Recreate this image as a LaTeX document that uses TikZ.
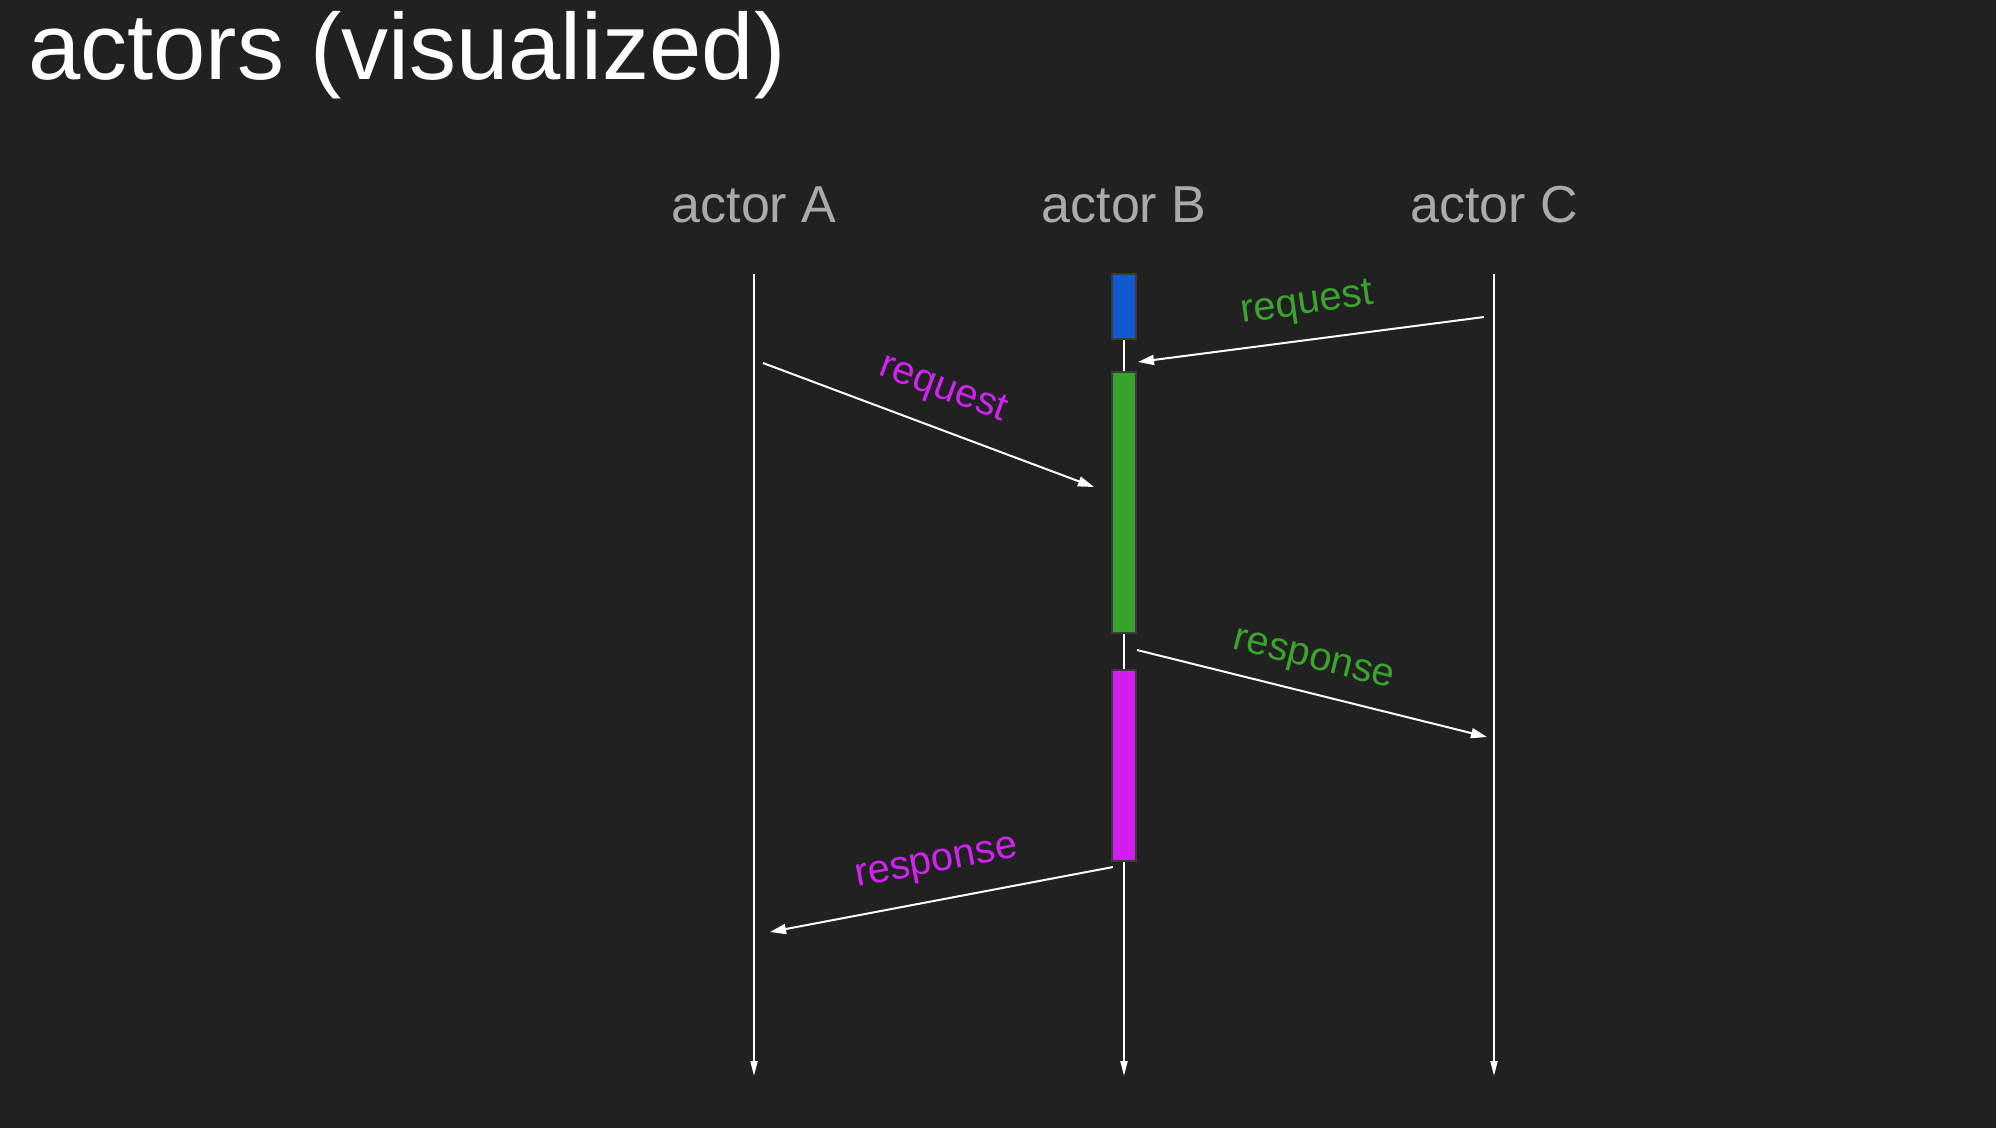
\documentclass[tikz,border=0pt]{standalone}
\usepackage{fontspec}
\setmainfont{Liberation Sans}
\usetikzlibrary{arrows.meta}
\definecolor{bg}{HTML}{212121}
\definecolor{actorgray}{HTML}{AAAAAA}
\definecolor{boxblue}{HTML}{1258D0}
\definecolor{boxgreen}{HTML}{38A22A}
\definecolor{boxmag}{HTML}{D21EF2}
\definecolor{txtgreen}{HTML}{3AA42C}
\definecolor{txtmag}{HTML}{D022F0}
\definecolor{boxedge}{HTML}{3A3A3A}
\begin{document}
\begin{tikzpicture}[x=1pt,y=-1pt,
  lifeline/.style={draw=white, line width=2pt, -{Triangle[length=15pt,width=7pt]}},
  msg/.style={draw=white, line width=2pt, -{Triangle[length=16pt,width=10pt]}},
  actbox/.style={draw=boxedge, line width=2.5pt, minimum width=24pt, inner sep=0pt},
  actorlbl/.style={text=actorgray, font=\fontsize{52}{60}\selectfont, anchor=base, inner sep=0pt},
  msglbl/.style={font=\fontsize{40}{48}\selectfont, inner sep=0pt}]
\fill[bg] (0,0) rectangle (1996,1128);
\useasboundingbox (0,0) rectangle (1996,1128);

\node[anchor=base west, text=white, font=\fontsize{94}{100}\selectfont, inner sep=0pt] (title) at (28,79) {actors (visualized)};

\node[actorlbl] (la) at (754,222) {actor A};
\node[actorlbl] (lb) at (1124,222) {actor B};
\node[actorlbl] (lc) at (1494,222) {actor C};

\coordinate (topA) at (754,274);
\coordinate (botA) at (754,1076);
\coordinate (topB) at (1124,274);
\coordinate (botB) at (1124,1076);
\coordinate (topC) at (1494,274);
\coordinate (botC) at (1494,1076);
\draw[lifeline] (topA) -- (botA);
\draw[lifeline] (topB) -- (botB);
\draw[lifeline] (topC) -- (botC);

\node[actbox, fill=boxblue, minimum height=65pt] (bblue) at (1124,306.5) {};
\node[actbox, fill=boxgreen, minimum height=261pt] (bgreen) at (1124,502.5) {};
\node[actbox, fill=boxmag, minimum height=191pt] (bmag) at (1124,765.5) {};

\coordinate (m1s) at (1484,317);
\coordinate (m1e) at (1138,362);
\draw[msg] (m1s) -- (m1e);
\node[msglbl, text=txtgreen, rotate=8] (l1) at (1307,305) {request};

\coordinate (m2s) at (763,363);
\coordinate (m2e) at (1094,487);
\draw[msg] (m2s) -- (m2e);
\node[msglbl, text=txtmag, rotate=-20.5] (l2) at (943,390) {request};

\coordinate (m3s) at (1137,650);
\coordinate (m3e) at (1487,737);
\draw[msg] (m3s) -- (m3e);
\node[msglbl, text=txtgreen, rotate=-14] (l3) at (1313,662) {response};

\coordinate (m4s) at (1113,867);
\coordinate (m4e) at (770,932);
\draw[msg] (m4s) -- (m4e);
\node[msglbl, text=txtmag, rotate=10.7] (l4) at (937,865) {response};
\end{tikzpicture}
\end{document}
